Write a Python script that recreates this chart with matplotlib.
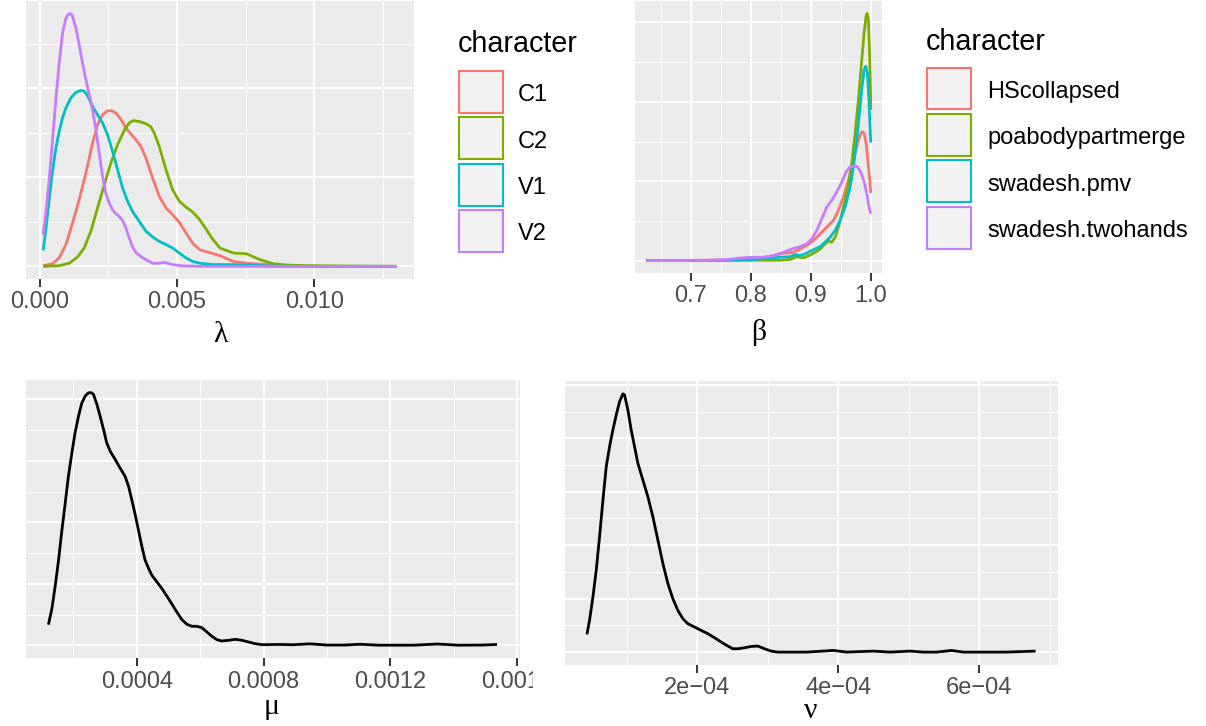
import matplotlib

matplotlib.use("Agg")
import matplotlib.pyplot as plt
from matplotlib.patches import Rectangle
from matplotlib.ticker import FixedLocator, MultipleLocator
from matplotlib.transforms import Bbox

plt.rcParams["font.family"] = ["Liberation Sans", "DejaVu Sans"]

W, H, DPI = 1206, 726, 100

PALETTE = ["#F8766D", "#7CAE00", "#00BFC4", "#C77CFF"]
PANEL_BG = "#EBEBEB"
KEY_BG = "#F2F2F2"

# ---- lambda density, one curve per consonant/vowel character
LAMBDA_CHARS = ["C1", "C2", "V1", "V2"]
LAMBDA_C1_X = [0.000122, 0.000462, 0.000705, 0.000948, 0.001191, 0.001434, 0.001677, 0.001920,
               0.002102, 0.002284, 0.002467, 0.002625, 0.002770, 0.002953, 0.003135, 0.003317,
               0.003500, 0.003682, 0.003864, 0.004107, 0.004350, 0.004593, 0.004836, 0.005079,
               0.005322, 0.005565, 0.005832, 0.006294, 0.006562, 0.007048, 0.007534, 0.008263,
               0.008992, 0.0105, 0.013002]
LAMBDA_C1_Y = [1.5, 6, 19, 49, 97, 150, 209, 277, 318, 340, 349, 349, 344, 330, 310, 297, 284,
               269, 243, 198, 157, 131, 116, 99, 75, 52, 37, 29, 24, 11, 7, 4, 1.5, 0, 0]
LAMBDA_C2_X = [0.000122, 0.000705, 0.001069, 0.001373, 0.001616, 0.001859, 0.002102, 0.002345,
               0.002588, 0.002831, 0.003074, 0.003256, 0.003402, 0.003621, 0.003864, 0.004046,
               0.004168, 0.004350, 0.004593, 0.004836, 0.005079, 0.005322, 0.005565, 0.005808,
               0.006051, 0.006294, 0.006562, 0.007048, 0.007534, 0.008020, 0.008506, 0.008992,
               0.009721, 0.013002]
LAMBDA_C2_Y = [0, 1.5, 7, 21, 41, 79, 131, 183, 232, 273, 305, 322, 327, 325, 320, 313, 299, 269,
               217, 172, 146, 133, 122, 106, 84, 61, 41, 30, 28, 15, 6, 3, 1.5, 0]
LAMBDA_V1_X = [0.000122, 0.000219, 0.000340, 0.000462, 0.000583, 0.000705, 0.000826, 0.000948,
               0.001130, 0.001312, 0.001495, 0.001616, 0.001738, 0.001920, 0.002102, 0.002284,
               0.002467, 0.002649, 0.002831, 0.003013, 0.003196, 0.003378, 0.003621, 0.003864,
               0.004107, 0.004350, 0.004593, 0.004836, 0.005079, 0.005322, 0.005565, 0.005832,
               0.006294, 0.007048, 0.008263, 0.0095, 0.013002]
LAMBDA_V1_Y = [36, 82, 150, 213, 265, 303, 333, 355, 378, 390, 395, 393, 383, 359, 340, 322, 295,
               258, 217, 176, 146, 123, 101, 79, 66, 56, 49, 41, 30, 19, 11, 7, 4, 4, 1, 0, 0]
LAMBDA_V2_X = [0.000122, 0.000219, 0.000340, 0.000462, 0.000583, 0.000705, 0.000826, 0.000948,
               0.001027, 0.001106, 0.001150, 0.001191, 0.001312, 0.001434, 0.001555, 0.001677,
               0.001798, 0.001920, 0.002041, 0.002163, 0.002284, 0.002406, 0.002527, 0.002649,
               0.002770, 0.002892, 0.003013, 0.003135, 0.003256, 0.003378, 0.003500, 0.003682,
               0.003864, 0.004107, 0.004350, 0.004532, 0.004836, 0.005200, 0.005808, 0.0070,
               0.0090, 0.0110, 0.013002]
LAMBDA_V2_Y = [71, 120, 194, 284, 374, 456, 523, 557, 565, 567, 566, 561, 535, 497, 456, 419,
               385, 351, 307, 254, 202, 164, 142, 127, 118, 112, 103, 86, 64, 43, 31, 22, 15, 7,
               7, 9, 4, 1, 0, 0, 0, 0, 0]

# ---- beta density, one curve per coding scheme
BETA_CHARS = ["HScollapsed", "poabodypartmerge", "swadesh.pmv", "swadesh.twohands"]
BETA_HS_X = [0.6256, 0.7822, 0.8156, 0.8378, 0.8544, 0.8711, 0.8822, 0.8933, 0.9044, 0.9156,
             0.9267, 0.9378, 0.9461, 0.9544, 0.9628, 0.9711, 0.9778, 0.9822, 0.9856, 0.9889,
             0.9922, 0.9956, 0.9983, 1.0]
BETA_HS_Y = [0.0, 0.17, 0.68, 1.27, 1.86, 2.11, 2.95, 3.80, 5.06, 6.75, 8.44, 10.13, 12.66,
             16.03, 20.25, 25.32, 29.54, 31.65, 32.49, 32.07, 29.54, 24.47, 20.25, 17.05]
BETA_POA_X = [0.6256, 0.7267, 0.7822, 0.8489, 0.8656, 0.8767, 0.8878, 0.8989, 0.9072, 0.9156,
              0.9239, 0.9294, 0.9350, 0.9406, 0.9461, 0.9517, 0.9572, 0.9628, 0.9683, 0.9739,
              0.9794, 0.9850, 0.9889, 0.9922, 0.9939, 0.9961, 0.9978, 0.9994, 1.0]
BETA_POA_Y = [0.0, 0.05, 0.1, 0.1, 0.3, 1.0, 0.7, 1.4, 2.11, 2.95, 4.22, 4.89, 4.64, 5.91, 8.44,
              11.81, 15.19, 18.99, 24.47, 32.07, 40.51, 50.63, 57.39, 61.61, 62.28, 60.76, 53.17,
              43.88, 37.98]
BETA_PMV_X = [0.6256, 0.7267, 0.7822, 0.8017, 0.8156, 0.8322, 0.8489, 0.8656, 0.8739, 0.8822,
              0.8906, 0.8989, 0.9072, 0.9156, 0.9239, 0.9322, 0.9406, 0.9489, 0.9572, 0.9656,
              0.9711, 0.9767, 0.9811, 0.9850, 0.9889, 0.9917, 0.9944, 0.9967, 0.9983, 1.0]
BETA_PMV_Y = [0.0, 0.05, 0.17, 0.25, 0.42, 0.68, 0.84, 1.01, 1.52, 1.27, 1.69, 2.36, 2.95, 3.54,
              4.64, 5.91, 7.60, 10.13, 13.50, 18.57, 23.63, 30.38, 37.13, 43.04, 48.10, 48.95,
              47.26, 41.35, 35.44, 29.71]
BETA_TWO_X = [0.6256, 0.7267, 0.7600, 0.7822, 0.8017, 0.8211, 0.8378, 0.8544, 0.8683, 0.8822,
              0.8933, 0.9017, 0.9100, 0.9183, 0.9267, 0.9350, 0.9433, 0.9517, 0.9589, 0.9656,
              0.9722, 0.9778, 0.9833, 0.9889, 0.9933, 0.9972, 1.0]
BETA_TWO_Y = [0.0, 0.08, 0.25, 0.68, 0.84, 0.84, 1.27, 2.11, 2.95, 3.54, 4.22, 5.49, 7.60, 10.55,
              13.50, 15.19, 17.30, 19.83, 22.36, 23.63, 23.88, 23.63, 22.36, 19.83, 16.88, 13.50,
              11.81]

# ---- mu density
MU_X = [0.000121, 0.000132, 0.000142, 0.000153, 0.000163, 0.000174, 0.000184, 0.000195, 0.000205,
        0.000216, 0.000226, 0.000237, 0.000247, 0.000256, 0.000263, 0.000274, 0.000284, 0.000295,
        0.000305, 0.000316, 0.000332, 0.000347, 0.000363, 0.000374, 0.000384, 0.000395, 0.000405,
        0.000416, 0.000426, 0.000437, 0.000447, 0.000463, 0.000479, 0.000495, 0.000511, 0.000526,
        0.000542, 0.000558, 0.000574, 0.000589, 0.000605, 0.000621, 0.000637, 0.000653, 0.000668,
        0.000689, 0.000711, 0.000732, 0.000753, 0.000774, 0.000795, 0.000850, 0.000892, 0.000946,
        0.001001, 0.001055, 0.001104, 0.001164, 0.001273, 0.001349, 0.001414, 0.001490, 0.001537]
MU_Y = [337, 599, 952, 1388, 1850, 2313, 2748, 3129, 3456, 3728, 3935, 4054, 4105, 4109, 4082,
        3918, 3728, 3510, 3292, 3156, 3020, 2884, 2748, 2585, 2367, 2122, 1877, 1605, 1388, 1252,
        1143, 1034, 925, 800, 669, 544, 419, 343, 310, 310, 288, 218, 147, 92, 71, 82, 98, 82, 54,
        27, 11, 15, 10, 25, 5, 5, 18, 3, 3, 22, 3, 5, 15]

# ---- nu density
NU_X = [0.0000433, 0.0000470, 0.0000518, 0.0000565, 0.0000612, 0.0000660, 0.0000707, 0.0000754,
        0.0000801, 0.0000849, 0.0000896, 0.0000943, 0.0000967, 0.0001014, 0.0001061, 0.0001109,
        0.0001156, 0.0001227, 0.0001298, 0.0001369, 0.0001440, 0.0001511, 0.0001582, 0.0001652,
        0.0001723, 0.0001794, 0.0001865, 0.0001960, 0.0002054, 0.0002149, 0.0002243, 0.0002338,
        0.0002433, 0.0002503, 0.0002574, 0.0002669, 0.0002764, 0.0002858, 0.0002953, 0.0003047,
        0.0003142, 0.0003314, 0.0003551, 0.0003929, 0.0004118, 0.0004496, 0.0004733, 0.0005017,
        0.0005206, 0.0005395, 0.0005608, 0.0005773, 0.0006388, 0.0006799]
NU_Y = [662, 1188, 2062, 3062, 4312, 5688, 6938, 7688, 8312, 8875, 9375, 9662, 9625, 9062, 8312,
        7688, 7062, 6438, 5812, 5062, 4188, 3312, 2562, 2000, 1562, 1250, 1062, 938, 812, 688, 538,
        375, 225, 125, 125, 162, 212, 225, 125, 38, 0, 0, 0, 62, 0, 37, 0, 37, 0, 0, 62, 0, 0, 37]

# axis breaks and their labels
LAMBDA_TICKS = [0.0, 0.005, 0.010]
LAMBDA_TICK_LABELS = ["0.000", "0.005", "0.010"]
BETA_TICKS = [0.7, 0.8, 0.9, 1.0]
BETA_TICK_LABELS = ["0.7", "0.8", "0.9", "1.0"]
MU_TICKS = [0.0004, 0.0008, 0.0012, 0.0016]
MU_TICK_LABELS = ["0.0004", "0.0008", "0.0012", "0.0016"]
NU_TICKS = [2e-4, 4e-4, 6e-4]
NU_TICK_LABELS = ["2e\u221204", "4e\u221204", "6e\u221204"]


def panel(fig, left, top, right, bottom):
    """Axes placed by pixel edges, measured from the top-left corner."""
    return fig.add_axes([left / W, 1 - bottom / H, (right - left) / W, (bottom - top) / H])


def style_panel(ax, xs, ys, ticks, labels, minor_x, major_y):
    lo = min(min(x) for x in xs)
    hi = max(max(x) for x in xs)
    top = max(max(y) for y in ys)
    pad = 0.05 * (hi - lo)
    ax.set_xlim(lo - pad, hi + pad)
    ax.set_ylim(-0.05 * top, 1.05 * top)

    ax.set_facecolor(PANEL_BG)
    for spine in ax.spines.values():
        spine.set_visible(False)

    ax.set_xticks(ticks, labels)
    ax.xaxis.set_minor_locator(FixedLocator(minor_x))
    ax.yaxis.set_major_locator(MultipleLocator(major_y))
    ax.yaxis.set_minor_locator(MultipleLocator(major_y / 2))
    ax.set_axisbelow(True)
    ax.grid(which="major", color="white", linewidth=1.5)
    ax.grid(which="minor", color="white", linewidth=0.75)

    ax.tick_params(axis="x", which="major", length=5.5, width=1.4, color="#333333",
                   labelsize=17, labelcolor="#4D4D4D", pad=3.5)
    ax.tick_params(axis="x", which="minor", length=0)
    ax.tick_params(axis="y", which="both", length=0, labelleft=False)


def axis_title(fig, cx, baseline, text):
    fig.text(cx / W, 1 - baseline / H, text, family=["Liberation Serif", "DejaVu Serif"],
             size=21.5, ha="center", va="baseline")


def draw_legend(fig, x, title_baseline, key_tops, labels, label_x):
    fig.text(x / W, 1 - title_baseline / H, "character", size=20.7, va="baseline")
    for top, lab, col in zip(key_tops, labels, PALETTE):
        fig.add_artist(Rectangle(((x + 1) / W, 1 - (top + 42.5) / H), 43.5 / W, 41.5 / H,
                                 transform=fig.transFigure, facecolor=KEY_BG, edgecolor=col,
                                 linewidth=1.5))
        fig.text(label_x / W, 1 - (top + 31) / H, lab, size=17, va="baseline")


fig = plt.figure(figsize=(W / DPI, H / DPI), dpi=DPI)
line_kw = dict(linewidth=2.0, solid_capstyle="butt", solid_joinstyle="round")

# lambda
ax1 = panel(fig, 25.5, 1, 414.5, 279)
lam_x = [LAMBDA_C1_X, LAMBDA_C2_X, LAMBDA_V1_X, LAMBDA_V2_X]
lam_y = [LAMBDA_C1_Y, LAMBDA_C2_Y, LAMBDA_V1_Y, LAMBDA_V2_Y]
for xs, ys, col in zip(lam_x, lam_y, PALETTE):
    ax1.plot(xs, ys, color=col, **line_kw)
style_panel(ax1, lam_x, lam_y, LAMBDA_TICKS, LAMBDA_TICK_LABELS,
            [0.0025, 0.0075, 0.0125], 200)
axis_title(fig, 220, 342, "\u03bb")
draw_legend(fig, 458, 52.5, [70, 116.5, 163, 209.3], LAMBDA_CHARS, 518)

# beta
ax2 = panel(fig, 635, 1, 882, 273)
beta_x = [BETA_HS_X, BETA_POA_X, BETA_PMV_X, BETA_TWO_X]
beta_y = [BETA_HS_Y, BETA_POA_Y, BETA_PMV_Y, BETA_TWO_Y]
for xs, ys, col in zip(beta_x, beta_y, PALETTE):
    ax2.plot(xs, ys, color=col, **line_kw)
style_panel(ax2, beta_x, beta_y, BETA_TICKS, BETA_TICK_LABELS,
            [0.65, 0.75, 0.85, 0.95], 20)
axis_title(fig, 759, 340, "\u03b2")
draw_legend(fig, 926, 50, [66.7, 113.3, 159.5, 206], BETA_CHARS, 987)

# mu
ax3 = panel(fig, 26, 380, 519.5, 658)
ax3.plot(MU_X, MU_Y, color="black", **line_kw)
style_panel(ax3, [MU_X], [MU_Y], MU_TICKS, MU_TICK_LABELS,
            [0.0002, 0.0006, 0.0010, 0.0014], 1000)
axis_title(fig, 272, 714, "\u03bc")
# the last break label runs past the edge of its grid cell and gets cut there
cell_clip = Bbox.from_extents(0, 0, 533, H)
for lab in ax3.get_xticklabels():
    lab.set_clip_on(True)
    lab.set_clip_box(cell_clip)

# nu
ax4 = panel(fig, 564.5, 381, 1058, 665)
ax4.plot(NU_X, NU_Y, color="black", **line_kw)
style_panel(ax4, [NU_X], [NU_Y], NU_TICKS, NU_TICK_LABELS,
            [1e-4, 3e-4, 5e-4, 7e-4], 2000)
axis_title(fig, 811, 718, "\u03bd")

fig.savefig("out.png", dpi=DPI)
plt.close(fig)
